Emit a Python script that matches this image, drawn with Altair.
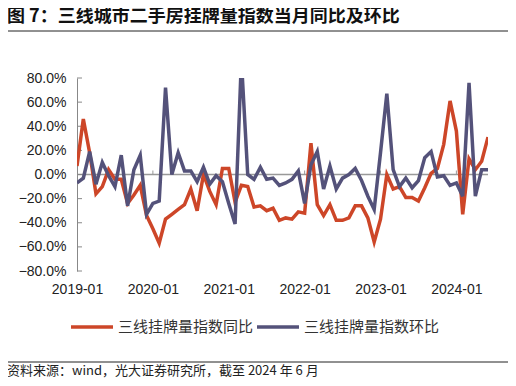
import json
import altair as alt
import pandas as pd

# ---- data ----
series_names = ["三线挂牌量指数同比", "三线挂牌量指数环比"]
colors = ["#CD4628", "#54527A"]

# monthly, 2019-01 ... 2024-06 (percent)
yoy = [7, 46, 18, -16, -10, 4, -4, -4, -24, -17, -9, -34,
       -45, -57, -37, -33, -29, -25, -12, -30, 0, -14, -25, 5,
       5, -23, -9, -10, -27, -26, -30, -28, -38, -36, -37, -31,
       -32, 26, -25, -34, -25, -38, -38, -36, -26, -26, -36, -56,
       -37, 0, -12, -10, -19, -19, -22, -11, 1, 5, 25, 61,
       36, -33, 13, 4, 11, 31]
mom = [-7, -3, 19, -8, 10, -1, -10, 16, -26, 4, 16, -33,
       -24, -22, 72, 0, 18, 3, 3, -6, 6, -8, -1, -6,
       -24, -41, 95, 0, -4, 6, -4, -3, -9, -7, -4, 3,
       -24, 8, 19, -12, 7, -12, -3, 0, 5, -5, -18, -29,
       18, 67, 4, -10, -3, -11, -5, 14, 19, -2, -1, -9,
       -7, -18, 76, -18, 4, 4]

x_tick_idx = [0, 12, 24, 36, 48, 60]
x_tick_labels = ["2019-01", "2020-01", "2021-01", "2022-01", "2023-01", "2024-01"]
y_ticks = [-80, -60, -40, -20, 0, 20, 40, 60, 80]

title_text = "图 7：三线城市二手房挂牌量指数当月同比及环比"
source_text = "资料来源：wind，光大证券研究所，截至 2024 年 6 月"

rows = []
for i, (a, b) in enumerate(zip(yoy, mom)):
    rows.append({"idx": i, "series": series_names[0], "value": a / 100})
    rows.append({"idx": i, "series": series_names[1], "value": b / 100})
df = pd.DataFrame(rows)

yfrac = [v / 100 for v in y_ticks]
W, H = 411, 193
FONT_CJK = "Noto Sans CJK SC"
FONT_NUM = "Liberation Sans"

x_scale = alt.Scale(domain=[0, len(yoy) - 1], nice=False, zero=False)
y_scale = alt.Scale(domain=[-0.8, 0.8], nice=False)

label_expr = json.dumps(x_tick_labels) + "[round(datum.value / 12)]"

x_axis = alt.Axis(values=x_tick_idx, labelExpr=label_expr, domain=False,
                  ticks=False, tickSize=0, grid=False, title=None,
                  labelFont=FONT_NUM, labelFontSize=14, labelColor="#222",
                  labelPadding=11, labelFlush=False, labelOverlap=False)
y_axis = alt.Axis(values=yfrac, format=".1%", domain=True, domainColor="#888",
                  domainWidth=1, ticks=False, tickSize=0, grid=False, title=None,
                  labelFont=FONT_NUM, labelFontSize=14, labelColor="#222",
                  labelPadding=11, labelOverlap=False, labelFlush=False)

lines = alt.Chart(df).mark_line(strokeWidth=3.5, clip=True, strokeJoin="miter").encode(
    x=alt.X("idx:Q", scale=x_scale, axis=x_axis),
    y=alt.Y("value:Q", scale=y_scale, axis=y_axis),
    color=alt.Color("series:N",
                    scale=alt.Scale(domain=series_names, range=colors),
                    sort=series_names,
                    legend=alt.Legend(title=None, orient="none", legendX=-8, legendY=226,
                                      direction="horizontal", symbolType="stroke",
                                      symbolSize=1764, symbolStrokeWidth=3.5,
                                      labelFont=FONT_CJK, labelFontSize=15,
                                      labelColor="#333", labelOffset=3,
                                      columnPadding=-4, labelLimit=300)),
)

zero_rule = alt.Chart(pd.DataFrame({"value": [0.0]})).mark_rule(
    color="#999", strokeWidth=1.5).encode(y=alt.Y("value:Q", scale=y_scale, axis=y_axis))

ytick_marks = alt.Chart(pd.DataFrame({"value": yfrac})).mark_rule(
    color="#888", strokeWidth=1).encode(
    y=alt.Y("value:Q", scale=y_scale, axis=y_axis), x=alt.value(0), x2=alt.value(5))

year_ticks = alt.Chart(pd.DataFrame({"idx": x_tick_idx[1:]})).mark_rule(
    color="#999", strokeWidth=1).encode(
    x=alt.X("idx:Q", scale=x_scale, axis=x_axis),
    y=alt.value(H / 2 - 4), y2=alt.value(H / 2))

one = alt.Data(values=[{"a": 1}])
title_mark = alt.Chart(one).mark_text(
    align="left", baseline="middle", font=FONT_CJK, fontSize=18, fontWeight="bold",
    color="#111").encode(x=alt.value(-70), y=alt.value(-61), text=alt.value(title_text))
title_line = alt.Chart(one).mark_rule(color="#222", strokeWidth=1).encode(
    x=alt.value(-70), x2=alt.value(433), y=alt.value(-47))
foot_line = alt.Chart(one).mark_rule(color="#222", strokeWidth=1).encode(
    x=alt.value(-72), x2=alt.value(433), y=alt.value(284))
foot_text = alt.Chart(one).mark_text(
    align="left", baseline="middle", font=FONT_CJK, fontSize=13, color="#222").encode(
    x=alt.value(-70), y=alt.value(293), text=alt.value(source_text))

chart = alt.layer(
    zero_rule, year_ticks, ytick_marks, lines,
    title_mark, title_line, foot_line, foot_text
).properties(
    width=W, height=H,
    padding={"left": 69, "top": 70, "right": 20, "bottom": 107},
    autosize=alt.AutoSizeParams(type="none"),
    background="white",
).configure_view(stroke=None)

chart.save("out.html", embed_options={"renderer": "svg", "actions": False})
